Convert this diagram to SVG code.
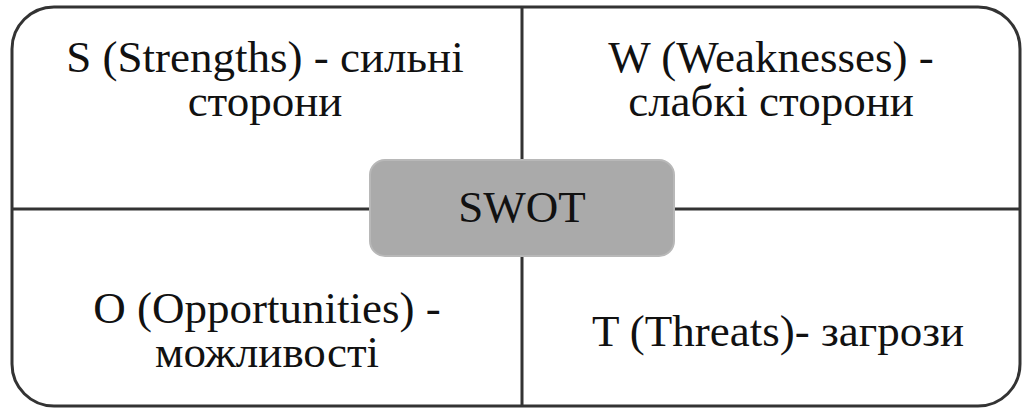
<svg xmlns="http://www.w3.org/2000/svg" width="1026" height="410" viewBox="0 0 1026 410">
<style>
text{font-family:'Liberation Serif','Times New Roman',serif;font-size:45px;fill:#111;text-anchor:middle}
.ln{stroke:#333;stroke-width:3;fill:none}
</style>
<rect x="0" y="0" width="1026" height="410" fill="#fff"/>
<g id="frame">
<rect x="12" y="7" width="1008" height="399" rx="42" ry="42" class="ln"/>
</g>
<g id="connectors">
<line x1="12" y1="209" x2="1020" y2="209" class="ln"/>
<line x1="522" y1="7" x2="522" y2="406" class="ln"/>
</g>
<g id="S">
<text x="265" y="72">S (Strengths)  - сильні</text>
<text x="265" y="116">сторони</text>
</g>
<g id="W">
<text x="771" y="72">W (Weaknesses)  -</text>
<text x="771" y="116">слабкі сторони</text>
</g>
<g id="O">
<text x="267" y="323">O (Opportunities)  -</text>
<text x="267" y="367">можливості</text>
</g>
<g id="T">
<text x="778" y="346">T (Threats)-  загрози</text>
</g>
<g id="SWOT">
<rect x="370" y="160" width="304" height="96" rx="15" ry="15" fill="#aaaaaa" stroke="#b8b8b8" stroke-width="2"/>
<text x="522" y="222">SWOT</text>
</g>
</svg>
